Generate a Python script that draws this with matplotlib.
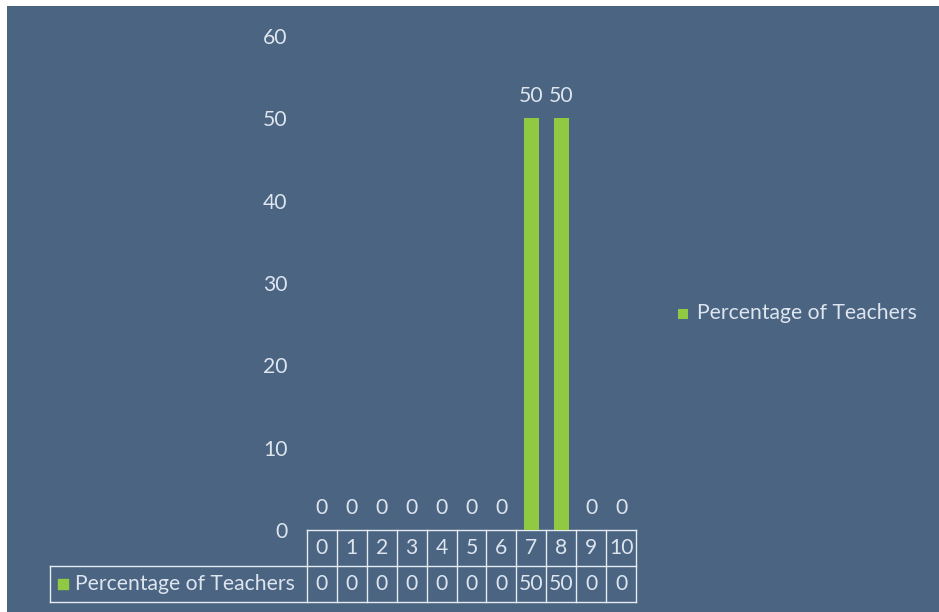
import numpy as np
import matplotlib.pyplot as plt
import matplotlib.transforms as mtransforms

categories = ["0", "1", "2", "3", "4", "5", "6", "7", "8", "9", "10"]
values = [0, 0, 0, 0, 0, 0, 0, 50, 50, 0, 0]
series_name = "Percentage of Teachers"
yticks = [0, 10, 20, 30, 40, 50, 60]

bg = "#4a6482"
green = "#8fca42"
txt = "#dde5ee"
fs = 15.2
plt.rcParams['font.family'] = ['Lato', 'DejaVu Sans']

fig = plt.figure(figsize=(9.39, 6.12), dpi=100)
fig.patch.set_facecolor("white")
# dark chart area, leaving the thin white scan border at top/left
fig.patches.append(plt.Rectangle((7/939, 0), 1, (612-6)/612, transform=fig.transFigure,
                                 facecolor=bg, edgecolor="none", zorder=-10))

ax = fig.add_axes([307/939, (612-530)/612, (636-307)/939, (530-36)/612])
ax.set_facecolor("none")
x = np.arange(len(categories))
ax.bar(x, values, width=0.5, color=green, zorder=3)
ax.set_xlim(-0.5, len(categories) - 0.5)
ax.set_ylim(0, 60)
ax.set_yticks(yticks)
ax.set_yticklabels([str(v) for v in yticks], color=txt, fontsize=fs)
ax.tick_params(axis='y', length=0, pad=14)
ax.set_xticks([])
for s in ax.spines.values():
    s.set_visible(False)

# data labels
for xi, v in zip(x, values):
    ax.annotate(str(v), (xi, v), xytext=(0, 9), textcoords="offset points",
                ha="center", va="bottom", color=txt, fontsize=fs)

# data table below the plot
tr = mtransforms.blended_transform_factory(ax.transData, ax.transAxes)
rh = 36 / 494
lw = 1.0
lc = "#e6ecf2"
n = len(categories)
left_edge = -0.5 - (307 - 50) / (329 / n)
# horizontal lines
ax.plot([-0.5, n - 0.5], [0, 0], transform=tr, color=lc, lw=lw, clip_on=False)
ax.plot([left_edge, n - 0.5], [-rh, -rh], transform=tr, color=lc, lw=lw, clip_on=False)
ax.plot([left_edge, n - 0.5], [-2 * rh, -2 * rh], transform=tr, color=lc, lw=lw, clip_on=False)
# vertical lines
for b in np.arange(-0.5, n, 1.0):
    ax.plot([b, b], [0, -2 * rh], transform=tr, color=lc, lw=lw, clip_on=False)
ax.plot([left_edge, left_edge], [-rh, -2 * rh], transform=tr, color=lc, lw=lw, clip_on=False)

for xi, c, v in zip(x, categories, values):
    ax.text(xi, -rh / 2, c, transform=tr, ha="center", va="center", color=txt, fontsize=fs)
    ax.text(xi, -1.5 * rh, str(v), transform=tr, ha="center", va="center", color=txt, fontsize=fs)

# legend key inside table
ax.scatter([left_edge + 0.45], [-1.5 * rh], transform=tr, marker="s", s=60,
           color=green, clip_on=False)
ax.text(left_edge + 0.85, -1.5 * rh, series_name, transform=tr, ha="left", va="center",
        color=txt, fontsize=fs)

# right legend
fig.patches.append(plt.Rectangle((678/939, (612-319)/612), 10/939, 10/612,
                                 transform=fig.transFigure, facecolor=green, edgecolor="none"))
fig.text(697/939, (612-313)/612, series_name, ha="left", va="center", color=txt, fontsize=fs)

fig.savefig("out.png", dpi=100, facecolor=fig.get_facecolor())
